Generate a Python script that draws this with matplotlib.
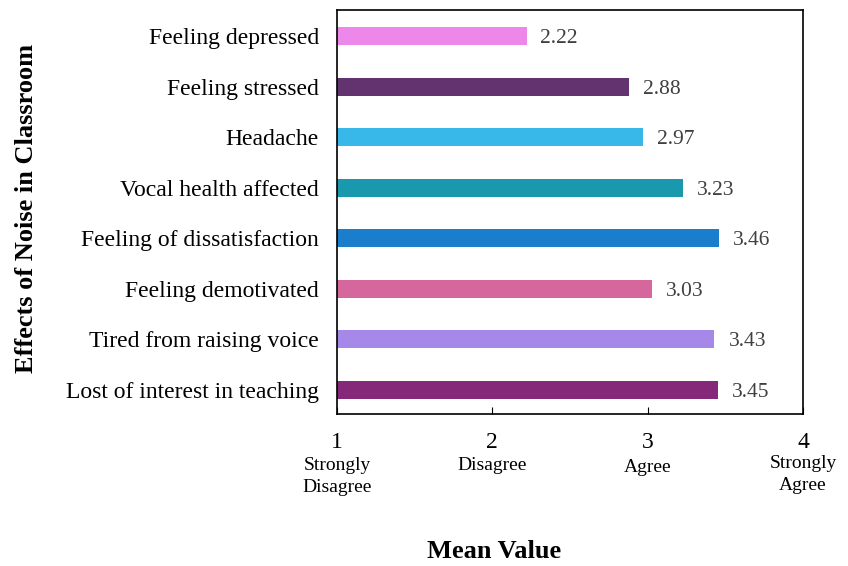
import numpy as np
import matplotlib.pyplot as plt
from matplotlib.transforms import blended_transform_factory

plt.rcParams['font.family'] = ['Liberation Serif', 'DejaVu Serif']

efectos = ['Lost of interest in teaching', 'Tired from raising voice',
           'Feeling demotivated', 'Feeling of dissatisfaction',
           'Vocal health affected', 'Headache', 'Feeling stressed',
           'Feeling depressed']
medias = [3.45, 3.43, 3.03, 3.46, 3.23, 2.97, 2.88, 2.22]
colores = ['#85287A', '#A688E8', '#D5679D', '#1A7ECC',
           '#1A98AE', '#38B8E8', '#62336E', '#ED87EA']
escala = [1, 2, 3, 4]
escala_txt = ['Strongly\nDisagree', 'Disagree', 'Agree', 'Strongly\nAgree']

fig = plt.figure(figsize=(8.48, 5.66), dpi=100)
ax = fig.add_axes([337 / 848, 1 - 414 / 566, (803 - 337) / 848, (414 - 10) / 566])

y = np.arange(len(efectos))
ax.barh(y, np.array(medias) - 1, left=1, height=0.36, color=colores)
for yi, v in zip(y, medias):
    ax.text(v + 0.09, yi, f'{v:.2f}', va='center_baseline', ha='left',
            fontsize=15.5, color='#404040')

ax.set_xlim(1, 4)
ax.set_ylim(-0.48, 7.52)
ax.set_yticks(y)
ax.set_yticklabels(efectos, fontsize=17)
ax.tick_params(axis='y', length=0, pad=13)
ax.set_xticks(escala)
ax.set_xticklabels([str(e) for e in escala], fontsize=17)
ax.tick_params(axis='x', direction='in', length=5, pad=13)

trans = blended_transform_factory(ax.transData, fig.transFigure)
alturas = [1 - 457 / 566, 1 - 457 / 566, 1 - 459 / 566, 1 - 455 / 566]
for e, t, h in zip(escala, escala_txt, alturas):
    ax.text(e, h, t, transform=trans, ha='center', va='top',
            fontsize=14, linespacing=1.35)

for s in ax.spines.values():
    s.set_linewidth(1.2)

fig.text(27 / 848, 1 - 208 / 566, 'Effects of Noise in Classroom',
         rotation=90, ha='center', va='center', fontsize=19,
         fontweight='bold')
fig.text(494 / 848, 1 - 552 / 566, 'Mean Value', ha='center',
         va='center', fontsize=19, fontweight='bold')

fig.savefig('out.png', dpi=100)
